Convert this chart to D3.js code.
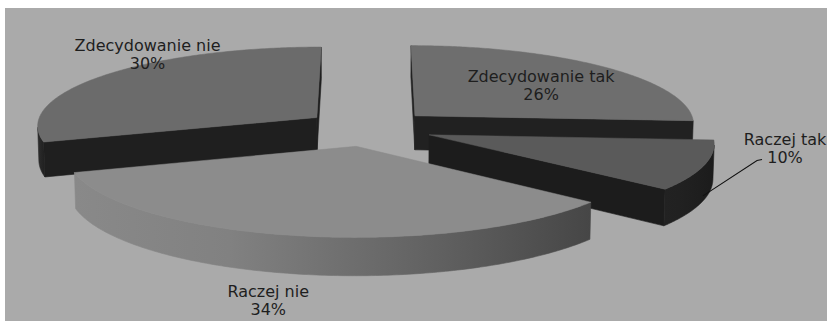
<!DOCTYPE html>
<html>
<head>
<meta charset="utf-8">
<script src="https://cdn.jsdelivr.net/npm/d3@7"></script>
<style>
  html, body { margin: 0; padding: 0; background: #ffffff; }
  svg { display: block; }
</style>
</head>
<body>
<svg id="chart" width="827" height="321"></svg>
<script>
// Survey answers, share of respondents
const categories = ["Zdecydowanie tak", "Raczej tak", "Raczej nie", "Zdecydowanie nie"];
const values = [26, 10, 34, 30];
const percentLabels = ["26%", "10%", "34%", "30%"];

// Fills per slice
const topFill  = ["#6e6e6e", "#5a5a5a", "#8c8c8c", "#6b6b6b"];
const cutFill  = ["#212121", "#1c1c1c", "#4a4a4a", "#1f1f1f"];
const wallFill = [["#262626", "#1e1e1e"], ["#222222", "#1b1b1b"], ["#898989", "#464646"], ["#2a2a2a", "#1f1f1f"]];

// 3D view of the pie (units of one radius)
const view = {
  cx: 368.5, cy: 162.5,     // screen position of the pie axis foot
  focal: 2884, dist: 10.3,  // perspective camera
  tilt: 17 * Math.PI / 180, // elevation of the camera
  depth: 0.128,             // thickness of the disc
  explode: 0.23             // how far each slice is pulled out
};

// Label layout: radius along the slice bisector (from the slice's own centre)
// and a pixel nudge; labels outside the rim get a leader line
const labelRadius = [0.59, 1.0, 1.5, 1.03];
const labelNudge  = [[13, 0], [81, -17], [8, 13], [47, -19]];
const labelLeader = [false, true, false, false];

const svg = d3.select("#chart");
const W = 827, H = 321;

// plot area
svg.append("rect").attr("width", W).attr("height", H).attr("fill", "#ffffff");
svg.append("rect").attr("x", 5).attr("y", 8).attr("width", W - 5).attr("height", H - 8).attr("fill", "#aaaaaa");

const sa = Math.sin(view.tilt), ca = Math.cos(view.tilt);
const cam = [0, -view.dist * ca, view.dist * sa];

function project([u, v, h]) {
  const yc = v * sa + h * ca;
  const zc = view.dist + v * ca - h * sa;
  return [view.cx + view.focal * u / zc, view.cy - view.focal * yc / zc];
}

const pie = d3.pie().sort(null).value(d => d)(values);

const slices = pie.map((p, i) => {
  const mid = (p.startAngle + p.endAngle) / 2;
  const off = [view.explode * Math.sin(mid), view.explode * Math.cos(mid)];
  return { i, a0: p.startAngle, a1: p.endAngle, mid, off };
});

function rim(s, a, r, h) {
  return [r * Math.sin(a) + s.off[0], r * Math.cos(a) + s.off[1], h];
}
function facing(normal, point) {
  const d = [cam[0] - point[0], cam[1] - point[1], cam[2] - point[2]];
  return normal[0] * d[0] + normal[1] * d[1] + normal[2] * d[2] > 0;
}

const line = d3.line().curve(d3.curveLinearClosed);
const defs = svg.append("defs");
const g = svg.append("g");

// back slices first
const order = slices.slice().sort((a, b) => Math.cos(b.mid) - Math.cos(a.mid));
const T = view.depth;
const STEPS = 160;

order.forEach(s => {
  const sg = g.append("g");
  const centerTop = [s.off[0], s.off[1], T], centerBot = [s.off[0], s.off[1], 0];

  // radial cut faces
  [[s.a0, [-Math.cos(s.a0), Math.sin(s.a0), 0]], [s.a1, [Math.cos(s.a1), -Math.sin(s.a1), 0]]]
    .forEach(([a, n]) => {
      const mid = rim(s, a, 0.5, T / 2);
      if (!facing(n, mid)) return;
      const quad = [centerTop, rim(s, a, 1, T), rim(s, a, 1, 0), centerBot].map(project);
      sg.append("path").attr("d", line(quad)).attr("fill", cutFill[s.i])
        .attr("stroke", cutFill[s.i]).attr("stroke-width", 0.6);
    });

  // outer curved wall, visible runs only
  const angles = d3.range(STEPS + 1).map(k => s.a0 + (s.a1 - s.a0) * k / STEPS);
  let runs = [], cur = null;
  angles.forEach(a => {
    const vis = facing([Math.sin(a), Math.cos(a), 0], rim(s, a, 1, T / 2));
    if (vis) { if (!cur) { cur = []; runs.push(cur); } cur.push(a); } else cur = null;
  });
  runs.filter(r => r.length > 1).forEach((run, k) => {
    const top = run.map(a => project(rim(s, a, 1, T)));
    const bot = run.slice().reverse().map(a => project(rim(s, a, 1, 0)));
    const pts = top.concat(bot);
    const xs = pts.map(p => p[0]);
    const gid = `wall-${s.i}-${k}`;
    const grad = defs.append("linearGradient").attr("id", gid)
      .attr("gradientUnits", "userSpaceOnUse")
      .attr("x1", d3.min(xs)).attr("x2", d3.max(xs)).attr("y1", 0).attr("y2", 0);
    const shade = d3.interpolateRgb(wallFill[s.i][0], wallFill[s.i][1]);
    [0, 0.3, 0.7, 1].forEach((t, j) => {
      const q = [0, 0.12, 0.6, 1][j];
      grad.append("stop").attr("offset", t).attr("stop-color", shade(q));
    });
    sg.append("path").attr("d", line(pts)).attr("fill", `url(#${gid})`)
      .attr("stroke", `url(#${gid})`).attr("stroke-width", 0.6);
  });

  // top face
  const topPts = [project(centerTop)].concat(angles.map(a => project(rim(s, a, 1, T))));
  sg.append("path").attr("d", line(topPts)).attr("fill", topFill[s.i])
    .attr("stroke", topFill[s.i]).attr("stroke-width", 0.5);
});

// data labels
const labels = svg.append("g")
  .attr("font-family", "'DejaVu Sans', Verdana, sans-serif")
  .attr("font-size", 16)
  .attr("fill", "#1e1e1e")
  .attr("text-anchor", "middle");

slices.forEach(s => {
  const p = project(rim(s, s.mid, labelRadius[s.i], T));
  const x = p[0] + labelNudge[s.i][0], y = p[1] + labelNudge[s.i][1];
  const t = labels.append("text").attr("x", x).attr("y", y);
  t.append("tspan").attr("x", x).attr("dy", "-0.22em").text(categories[s.i]);
  t.append("tspan").attr("x", x).attr("dy", "1.12em").text(percentLabels[s.i]);

  if (labelLeader[s.i]) {
    const start = project(rim(s, s.mid, 1, T * 0.15));
    const end = [x - 23, y + 11];
    const elbow = [end[0] - 5, end[1] + 1];
    svg.append("path")
      .attr("d", d3.line()([start, elbow, end]))
      .attr("fill", "none").attr("stroke", "#111").attr("stroke-width", 1.1);
  }
});
</script>
</body>
</html>
